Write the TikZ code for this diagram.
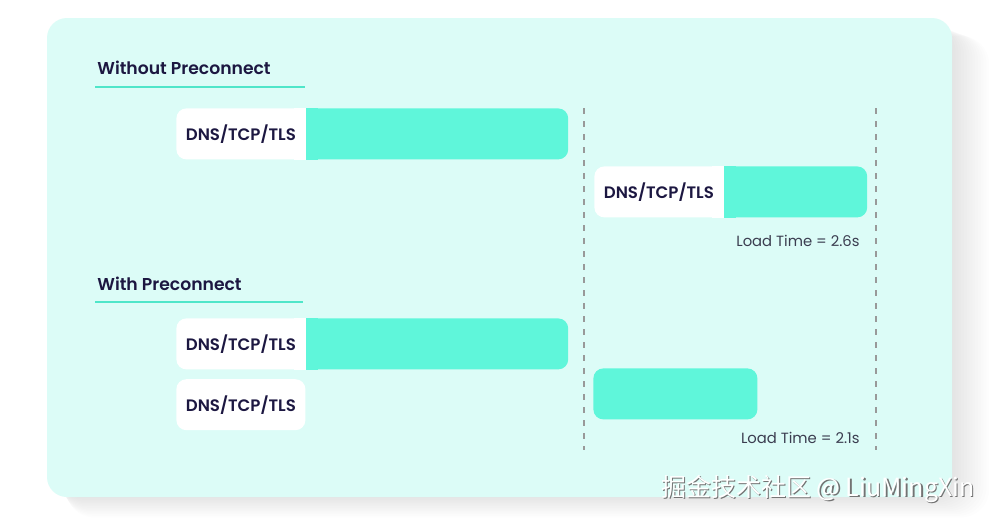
\documentclass[tikz,border=0pt]{standalone}
\usepackage{fontspec}
\setmainfont{Poppins}[BoldFont={Poppins SemiBold}]
\newfontfamily\cjk{Noto Sans CJK SC}
\usetikzlibrary{positioning}
\definecolor{panelbg}{HTML}{DCFCF7}
\definecolor{barteal}{HTML}{5FF6DA}
\definecolor{lineteal}{HTML}{4FE6C9}
\definecolor{inkblue}{HTML}{1C1741}
\definecolor{inkgrey}{HTML}{3B3D50}
\pgfdeclarelayer{panel}
\pgfdeclarelayer{bars}
\pgfsetlayers{panel,bars,main}
\tikzset{
	lbl/.style={fill=white, rounded corners=5pt, minimum width=64.5pt, minimum height=25.5pt, inner sep=0pt, font=\bfseries\fontsize{8.3}{10}\selectfont, text=inkblue},
	bar/.style={fill=barteal, rounded corners=5pt, minimum height=25.5pt, inner sep=0pt},
	heading/.style={font=\bfseries\fontsize{8.6}{11}\selectfont, text=inkblue, anchor=base west, inner sep=0pt},
	underline/.style={lineteal, line width=1.2pt},
	loadtime/.style={font=\fontsize{7.4}{9}\selectfont, text=inkgrey, anchor=base east, inner sep=0pt},
	marker/.style={gray!80, line width=0.6pt, dash pattern=on 3pt off 3.5pt},
	watermark/.style={font=\cjk\fontsize{12.5}{14}\selectfont, anchor=east, inner sep=0pt},
}
\begin{document}
\begin{tikzpicture}[x=0.5pt, y=-0.5pt]
	\useasboundingbox (0,0) rectangle (993,520);
	\begin{pgfonlayer}{panel}
		\fill[white] (0,0) rectangle (993,520);
		\foreach \s in {1,...,14}
			\fill[black, opacity=0.008, rounded corners=14pt] (52+\s,22+\s) rectangle (950+2.8*\s,495+1.6*\s);
		\fill[panelbg, rounded corners=10pt] (47,18) rectangle (952,497);
	\end{pgfonlayer}

	\node[heading] (without) at (97,74) {Without Preconnect};
	\draw[underline] ([xshift=-1pt, yshift=-6.5pt]without.base west) -- ++(210,0);
	\node[heading] (with) at (97,290) {With Preconnect};
	\draw[underline] ([xshift=-1pt, yshift=-6pt]with.base west) -- ++(208,0);

	\node[lbl, anchor=north west] (dnsA) at (176,108) {DNS/TCP/TLS};
	\node[lbl, anchor=north west] (dnsB) at (594,166) {DNS/TCP/TLS};
	\node[lbl, anchor=north west] (dnsC) at (176,318) {DNS/TCP/TLS};
	\node[lbl, below=4.5pt of dnsC] (dnsD) {DNS/TCP/TLS};
	\begin{pgfonlayer}{bars}
		\node[bar, right=0pt of dnsA, minimum width=131pt] (loadA) {};
		\node[bar, right=0pt of dnsB, minimum width=71.5pt] (loadB) {};
		\node[bar, right=0pt of dnsC, minimum width=131pt] (loadC) {};
		\node[bar, anchor=north west, minimum width=82pt] (loadD) at (593,368) {};
		\foreach \l/\b in {dnsA/loadA, dnsB/loadB, dnsC/loadC} {
			\fill[white] ([xshift=-6pt]\l.north east) rectangle (\l.south east);
			\fill[barteal] (\b.north west) rectangle ([xshift=6pt]\b.south west);
		}
	\end{pgfonlayer}

	\coordinate (firstTop) at (584,108);
	\coordinate (firstBot) at (584,450);
	\coordinate (secondTop) at (876,108);
	\coordinate (secondBot) at (876,450);
	\draw[marker] (firstTop) -- (firstBot);
	\draw[marker] (secondTop) -- (secondBot);

	\node[loadtime] (timeA) at (860,246) {Load Time = 2.6s};
	\node[loadtime] (timeB) at (860,443) {Load Time = 2.1s};

	\node[watermark, text=black!55] (markShadow) at (976.5,490.5) {掘金技术社区 @ LiuMingXin};
	\node[watermark, text=white] (mark) at (975,489) {掘金技术社区 @ LiuMingXin};
\end{tikzpicture}
\end{document}
